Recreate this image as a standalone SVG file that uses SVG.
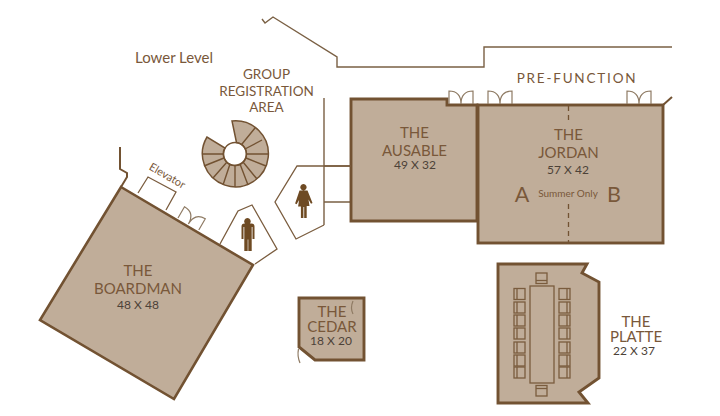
<svg xmlns="http://www.w3.org/2000/svg" width="720" height="416" viewBox="0 0 720 416">
<style>
text{font-family:"Lato","Open Sans","Liberation Sans",sans-serif;text-anchor:middle;fill:#79583a}
.t{font-size:15px}
.d{font-size:12px;fill:#4d4238}
.room{fill:#c0ad99;stroke:#725232;stroke-width:2.6;stroke-linejoin:miter}
.thick{fill:#c0ad99;stroke:#725232;stroke-width:2.900}
.wall{fill:none;stroke:#725232;stroke-width:2;stroke-linejoin:miter}
.thin{fill:none;stroke:#7a6044;stroke-width:1.400}
.door{fill:none;stroke:#8e7a63;stroke-width:1.2}
.ln{fill:none;stroke:#7a5c3e;stroke-width:1.300}
.st{fill:none;stroke:#725232;stroke-width:1.400}
.ic{fill:#6e4a23}
</style>
<defs>
<g id="dbl"><path class="door" d="M0 0V-13Q12 -13 12 0M24 0V-13Q12 -13 12 0"/></g>
<g id="chv"><rect class="ln" x="0" y="0" width="11" height="11"/><path class="ln" d="M3 0V11"/></g>
<g id="chh"><rect class="ln" x="0" y="0" width="11" height="10.500"/><path class="ln" d="M0 7.500H11"/></g>
</defs>
<g id="walls">
<path class="thin" d="M262 19L265 23L273 17L337 57V67H484V47H672"/>
<path class="thin" d="M324 98V225M324 166H351M324 202H351"/>
<path class="wall" d="M120 147V169L127 173V177L121 187"/>
<path class="wall" d="M663 105L672 97"/>
</g>
<g id="labels">
<text x="174" y="63" class="t">Lower Level</text>
<text x="266.500" y="79" class="t" style="font-size:13.500px">GROUP</text>
<text x="266.500" y="96" class="t" style="font-size:13.500px">REGISTRATION</text>
<text x="266.500" y="112" class="t" style="font-size:13.500px">AREA</text>
<text x="577" y="83" class="t" style="font-size:13.500px;letter-spacing:1.800px">PRE-FUNCTION</text>
</g>
<g id="stair">
<path class="room" style="stroke-width:1.500" d="M232 121A33 33 0 1 1 207 137L225 148A11.500 11.500 0 1 0 236.500 142.500Z"/>
<circle cx="235" cy="154" r="11.500" fill="#fff" class="st"/>
<path class="st" d="M242 144L255 128M245 149L262 140M246.500 154H268M246 158L266 166M243 162L257 179M240 164L248 185M235 165.500V187M230 164L223 185M227 162L213 178M224 158L204 166M223.500 154H202"/>
</g>
<g id="the-ausable">
<path class="thick" d="M351 99H447V105H477V221H351Z"/>
<text x="414.500" y="137.500" class="t">THE</text><text x="414.500" y="156" class="t">AUSABLE</text><text x="415" y="169" class="d">49 X 32</text>
</g>
<g id="the-jordan">
<rect class="thick" x="478" y="105" width="185" height="138"/>
<path d="M568.500 106V121M568.500 204V242" fill="none" stroke="#725232" stroke-width="1.300" stroke-dasharray="5 4"/>
<text x="568.500" y="140" class="t">THE</text><text x="568.500" y="158" class="t">JORDAN</text><text x="568" y="174" class="d">57 X 42</text>
<text x="522" y="202" style="font-size:21.500px">A</text><text x="614" y="202" style="font-size:21.500px">B</text>
<text x="568" y="197" style="font-size:10px">Summer Only</text>
</g>
<g id="doors">
<use href="#dbl" x="449" y="104"/><use href="#dbl" x="488" y="104"/><use href="#dbl" x="627" y="104"/>
<use href="#dbl" transform="translate(178 218) rotate(30)"/>
</g>
<g id="the-boardman">
<path class="thick" style="stroke-width:2.600" d="M121 187L253 265L174 399L40 320Z"/>
<text x="138" y="276" class="t">THE</text><text x="138" y="294" class="t">BOARDMAN</text><text x="138" y="309" class="d">48 X 48</text>
</g>
<g id="elevator">
<path class="ln" d="M138 193L148 177L176 192L166 210"/>
<text x="0" y="0" transform="translate(165.500 179) rotate(30)" style="font-size:11px">Elevator</text>
</g>
<g id="mens">
<path class="ln" d="M220 244L238 211L252 205L277 249L255 264"/>
<path class="ic" d="M247.500 218a3.300 3.300 0 1 1 -.1 0M243.500 223.500h8a3 3 0 0 1 3 3V239h-2V227h-.8V251h-3.400V239.500h-.6V251h-3.400V227h-.8V239h-2V226.500a3 3 0 0 1 3-3Z"/>
</g>
<g id="womens">
<path class="ln" d="M351 166H297L275 202L296 239L324 225"/>
<path class="ic" d="M303.500 184a3.200 3.200 0 1 1 -.1 0M299.500 190.500h8l5 12.500l-1.500 .8l-2.500-4.300l1 6.500h-2.800V218h-2.500V207h-.8V218h-2.500V206.500h-2.800l1-6.500l-2.500 4.300l-1.500-.8Z"/>
</g>
<g id="the-cedar">
<path class="thick" d="M299 298H364V360H315L299 347Z"/>
<path class="door" d="M353 301Q350 308 353 314M298.500 349Q297 356 300 363"/>
<text x="332" y="317" class="t">THE</text><text x="332" y="332" class="t">CEDAR</text><text x="331" y="345" class="d">18 X 20</text>
</g>
<g id="the-platte">
<path class="thick" d="M498 264H587L582 273L599 282V378L579 392L588 403H498Z"/>
<rect class="ln" x="530" y="286" width="24" height="97"/>
<use href="#chv" x="514" y="288.500"/><use href="#chv" x="514" y="302"/><use href="#chv" x="514" y="315"/><use href="#chv" x="514" y="328"/><use href="#chv" x="514" y="342"/><use href="#chv" x="514" y="355"/><use href="#chv" x="514" y="367"/>
<use href="#chv" transform="translate(570 288.500) scale(-1 1)"/><use href="#chv" transform="translate(570 302) scale(-1 1)"/><use href="#chv" transform="translate(570 315) scale(-1 1)"/><use href="#chv" transform="translate(570 328) scale(-1 1)"/><use href="#chv" transform="translate(570 342) scale(-1 1)"/><use href="#chv" transform="translate(570 355) scale(-1 1)"/><use href="#chv" transform="translate(570 367) scale(-1 1)"/>
<use href="#chh" x="536" y="273"/><use href="#chh" transform="translate(536 396) scale(1 -1)"/>
<text x="636" y="327" class="t">THE</text><text x="636" y="342" class="t">PLATTE</text><text x="634" y="355" class="d">22 X 37</text>
</g>
</svg>
